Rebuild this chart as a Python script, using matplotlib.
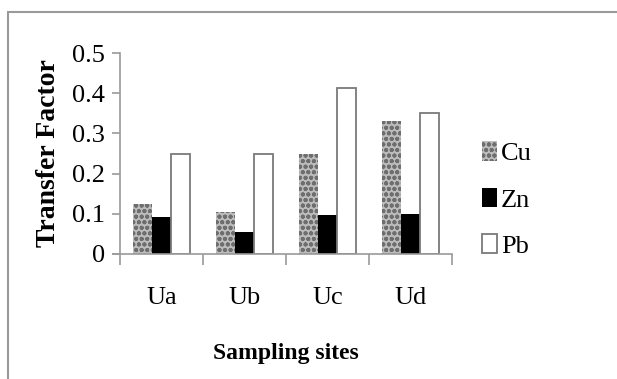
import numpy as np
import matplotlib
matplotlib.use('Agg')
from matplotlib import pyplot as plt
from matplotlib.patches import Rectangle

sites = ['Ua', 'Ub', 'Uc', 'Ud']
metals = ['Cu', 'Zn', 'Pb']
cu = [0.124, 0.104, 0.248, 0.331]
zn = [0.093, 0.054, 0.098, 0.100]
pb = [0.248, 0.250, 0.412, 0.350]
yticks = [0, 0.1, 0.2, 0.3, 0.4, 0.5]
ytick_labels = ['0', '0.1', '0.2', '0.3', '0.4', '0.5']

plt.rcParams['font.family'] = ['Liberation Serif', 'DejaVu Serif']
plt.rcParams['hatch.linewidth'] = 1.3

fig = plt.figure(figsize=(6.17, 3.79), dpi=100)
# outer frame of the chart area (cut off at right and bottom)
fig.patches.append(Rectangle((8 / 617, -0.1), 1.2, (379 - 12) / 379 + 0.1,
                             transform=fig.transFigure, fill=False,
                             edgecolor='#9a9a9a', linewidth=1.5))

ax = fig.add_axes([120 / 617, (379 - 254) / 379, 332 / 617, 201 / 379])
x = np.arange(len(sites))
w = 0.225
ax.bar(x - w, cu, w, color='#bcbcbc', hatch='ooo', edgecolor='#6e6e6e',
       linewidth=0, label='Cu')
ax.bar(x, zn, w, color='black', linewidth=0, label='Zn')
ax.bar(x + w, pb, w, color='white', edgecolor='#7a7a7a', linewidth=1.3,
       label='Pb')

ax.set_xlim(-0.5, 3.5)
ax.set_ylim(0, 0.5)
for s in ['top', 'right']:
    ax.spines[s].set_visible(False)
for s in ['left', 'bottom']:
    ax.spines[s].set_color('#9a9a9a')
    ax.spines[s].set_linewidth(1.2)
ax.spines['bottom'].set_bounds(-0.5 - 0.08, 3.5)

ax.set_yticks(yticks)
ax.set_yticklabels(ytick_labels, fontsize=19)
ax.tick_params(axis='y', length=6, color='#9a9a9a', width=1.2, pad=5)

ax.set_xticks(np.arange(-0.5, 4, 1))
ax.set_xticklabels([])
ax.tick_params(axis='x', which='major', length=8, color='#9a9a9a', width=1.2)
ax.set_xticks(x, minor=True)
ax.set_xticklabels(sites, minor=True, fontsize=19)
ax.tick_params(axis='x', which='minor', length=0, pad=24)

ax.set_ylabel('Transfer Factor', fontsize=20, fontweight='bold', labelpad=8)
ax.set_xlabel('Sampling sites', fontsize=17, fontweight='bold', labelpad=24)

ax.legend(loc='center left', bbox_to_anchor=(1.02, 0.27), frameon=False,
          fontsize=19, handlelength=0.55, handleheight=0.75, handletextpad=0.15,
          labelspacing=0.85)

fig.savefig('out.png', dpi=100)
